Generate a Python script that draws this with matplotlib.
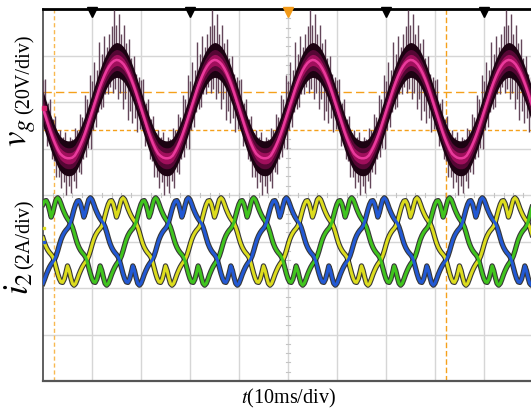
import numpy as np
import matplotlib
matplotlib.use("Agg")
import matplotlib.pyplot as plt

plt.rcParams["font.family"] = ["Liberation Serif", "DejaVu Serif"]
plt.rcParams["mathtext.fontset"] = "stix"

# grid voltage v_g over one 20 ms cycle, 0.5 ms steps (V)
v_cycle = [0.7, -2.7, -6.0, -9.2, -12.1, -14.7, -17.0, -18.8, -19.8, -20.5,
           -20.8, -20.8, -20.5, -19.6, -17.8, -15.7, -13.2, -10.4, -7.3, -4.0,
           -0.7, 2.7, 6.0, 9.2, 12.1, 14.7, 17.0, 18.8, 20.2, 21.1,
           21.5, 21.3, 20.6, 19.5, 17.8, 15.7, 13.2, 10.4, 7.3, 4.0]
# switching spikes on v_g, same 0.5 ms steps (V above / below the trace)
spike_up = [12, 16, 9, 14, 8, 12, 7, 10, 8, 11, 7, 9, 8, 12, 9, 14, 10, 17, 12, 19,
            13, 18, 11, 20, 12, 17, 10, 14, 16, 22, 15, 20, 12, 17, 11, 15, 9, 13, 8, 10]
spike_dn = [9, 13, 8, 12, 10, 14, 12, 15, 11, 16, 12, 15, 10, 14, 9, 12, 8, 10, 9, 13,
            8, 10, 7, 9, 11, 8, 10, 9, 13, 12, 17, 14, 20, 15, 22, 16, 19, 14, 17, 12]

# one phase of i_2, first half cycle in 6 degree steps from its peak region (A)
i_half = [1.05, 1.25, 1.55, 1.80, 1.88, 1.80, 1.62, 1.42, 1.25, 1.10,
          0.98, 0.88, 0.78, 0.62, 0.40, 0.15, -0.08, -0.25, -0.38, -0.48,
          -0.56, -0.66, -0.85, -1.12, -1.38, -1.60, -1.74, -1.76, -1.62, -1.35]
i_shape = i_half + [-x for x in i_half]
# sample index (1/3 ms steps) where each phase cycle starts
phase_start = {"green": 5, "blue": 25, "yellow": 45}
phase_color = {"yellow": "#dcdc1e", "green": "#40c41e", "blue": "#2259d4"}

n_cycles = 5
v_off, i_off = 5.83, 3.0      # channel zero levels (div)
v_scale, i_scale = 20.0, 2.0  # V/div, A/div

fig = plt.figure(figsize=(5.31, 4.12), dpi=100)
ax = fig.add_axes([43 / 531, 31 / 412, 488 / 531, 372 / 412])
ax.set_xlim(0, 99.6)
ax.set_ylim(0, 8)

# graticule
for x in range(10, 100, 10):
    ax.axvline(x, color="#d6d6d6", lw=1.0, zorder=0)
for y in range(1, 8):
    ax.axhline(y, color="#d6d6d6", lw=1.0, zorder=0)
for y in np.arange(0.2, 8, 0.2):
    ax.plot([49.6, 50.4], [y, y], color="#c4c4c4", lw=0.8, zorder=0)
for x in np.arange(2, 100, 2):
    ax.plot([x, x], [3.955, 4.045], color="#c4c4c4", lw=0.8, zorder=0)

# cursors
ax.axhline(6.215, color="#f5a11c", lw=1.0, ls=(0, (6, 3)), zorder=1)
ax.axhline(5.40, color="#f5a11c", lw=1.0, ls=(0, (3, 2)), zorder=1)
ax.axvline(2.25, color="#f8b850", lw=1.0, ls=(0, (3, 2)), zorder=1)
ax.axvline(82.2, color="#f5a11c", lw=1.0, ls=(0, (4, 2)), zorder=1)

# currents
t_i = np.arange(60 * n_cycles + 1) / 3.0
for name in ["yellow", "green", "blue"]:
    cyc = np.roll(i_shape, phase_start[name])
    y = i_off + np.append(np.tile(cyc, n_cycles), cyc[0]) / i_scale
    ax.plot(t_i, y, color="#151515", lw=3.8, alpha=0.85, zorder=2,
            solid_joinstyle="round")
    ax.plot(t_i, y, color=phase_color[name], lw=2.2, zorder=3,
            solid_joinstyle="round")

# voltage
t_v = np.arange(40 * n_cycles + 1) * 0.5
v = np.append(np.tile(v_cycle, n_cycles), v_cycle[0])
up = np.append(np.tile(spike_up, n_cycles), spike_up[0])
dn = np.append(np.tile(spike_dn, n_cycles), spike_dn[0])
yv = v_off + v / v_scale
ax.vlines(t_v, yv, yv + up / v_scale, color="#64465a", lw=1.0, zorder=4)
ax.vlines(t_v + 0.25, yv - dn / v_scale, yv, color="#64465a", lw=1.0, zorder=4)
ax.fill_between(t_v, yv - 7.5 / v_scale, yv + 7.5 / v_scale, color="#1c0312",
                lw=0, zorder=5)
ax.fill_between(t_v, yv - 4.5 / v_scale, yv + 4.5 / v_scale, color="#560735",
                lw=0, zorder=6)
ax.fill_between(t_v, yv - 2.4 / v_scale, yv + 2.4 / v_scale, color="#a00f5c",
                lw=0, zorder=7)
ax.plot(t_v, yv, color="#ea3a9c", lw=1.8, zorder=8)

# trigger markers on top edge and channel markers at the left
ax.plot([10, 30, 70, 90], [7.93] * 4, "v", color="black", ms=7, clip_on=False,
        zorder=10)
ax.plot([50], [7.93], "v", color="#f29a18", ms=7, clip_on=False, zorder=10)
ax.plot([0.3], [v_off + 0.05], "s", color="#d0206a", ms=3.5, clip_on=False,
        zorder=10)
ax.plot([0.3], [3.29], "s", color="#dcdc1e", ms=2, clip_on=False, zorder=10)
ax.plot([0.3], [3.0], "s", color="#2259d4", ms=2, clip_on=False, zorder=10)

ax.set_xticks([])
ax.set_yticks([])
ax.spines["right"].set_visible(False)
ax.spines["top"].set_color("black")
ax.spines["top"].set_linewidth(2.0)
ax.spines["left"].set_color("#444444")
ax.spines["left"].set_linewidth(1.2)
ax.spines["bottom"].set_color("#555555")
ax.spines["bottom"].set_linewidth(1.6)

# labels
fig.text(25 / 531, 1 - 114 / 412, "(20V/div)", rotation=90, fontsize=14.5,
         ha="center", va="bottom")
fig.text(21 / 531, 1 - 118 / 412, r"$v_g$", rotation=90, fontsize=25,
         ha="center", va="top")
fig.text(25 / 531, 1 - 269 / 412, "(2A/div)", rotation=90, fontsize=14.5,
         ha="center", va="bottom")
fig.text(20 / 531, 1 - 272 / 412, r"$i_2$", rotation=90, fontsize=25,
         ha="center", va="top")
fig.text(288 / 531, 1 - 398 / 412, r"$t$(10ms/div)", fontsize=14.5,
         ha="center", va="center")

fig.savefig("out.png", dpi=100)
